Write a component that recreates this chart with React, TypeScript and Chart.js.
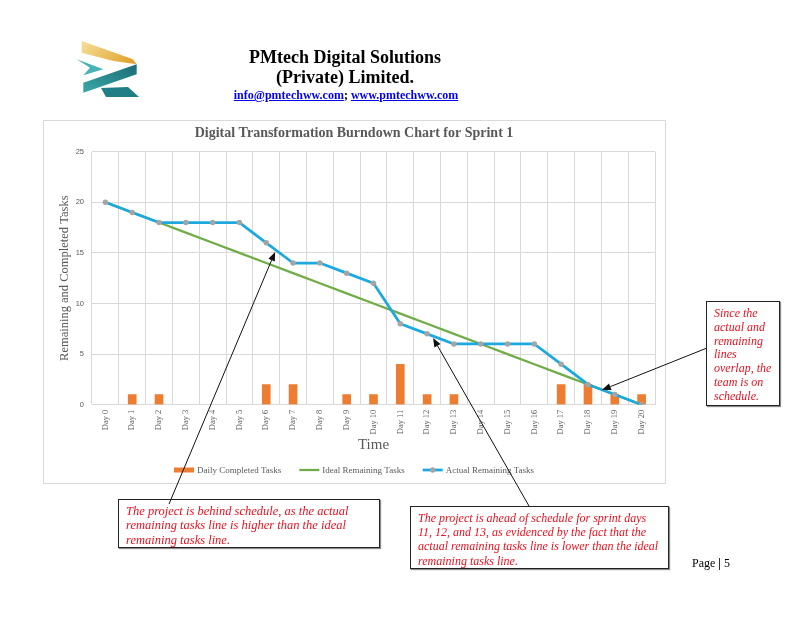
import React, { useEffect, useRef } from "react";
import { Chart, registerables } from "chart.js";

Chart.register(...registerables);

// ---------- data ----------
const days = [
  "Day 0", "Day 1", "Day 2", "Day 3", "Day 4", "Day 5", "Day 6", "Day 7", "Day 8", "Day 9", "Day 10",
  "Day 11", "Day 12", "Day 13", "Day 14", "Day 15", "Day 16", "Day 17", "Day 18", "Day 19", "Day 20",
];
const dailyCompleted = [0, 1, 1, 0, 0, 0, 2, 2, 0, 1, 1, 4, 1, 1, 0, 0, 0, 2, 2, 1, 1];
const idealRemaining = [20, 19, 18, 17, 16, 15, 14, 13, 12, 11, 10, 9, 8, 7, 6, 5, 4, 3, 2, 1, 0];
const actualRemaining = [20, 19, 18, 18, 18, 18, 16, 14, 14, 13, 12, 8, 7, 6, 6, 6, 6, 4, 2, 1, 0];
const yTickValues = [0, 5, 10, 15, 20, 25];

const chartTitle = "Digital Transformation Burndown Chart for Sprint 1";
const yAxisTitle = "Remaining and Completed Tasks";
const xAxisTitle = "Time";
const seriesNames = ["Daily Completed Tasks", "Ideal Remaining Tasks", "Actual Remaining Tasks"];

const note1 = ["The project is behind schedule, as the actual", "remaining tasks line is higher than the ideal", "remaining tasks line."];
const note2 = [
  "The project is ahead of schedule for sprint days",
  "11, 12, and 13, as evidenced by the fact that the",
  "actual remaining tasks line is lower than the ideal",
  "remaining tasks line.",
];
const note3 = ["Since the", "actual and", "remaining", "lines", "overlap, the", "team is on", "schedule."];

// arrow targets in data space (category index, value)
const arrowTargets = [
  { idx: 6.33, val: 15.1 },
  { idx: 12.22, val: 6.6 },
  { idx: 18.52, val: 1.45 },
];

// ---------- layout (page pixels) ----------
const SERIF = "'Liberation Serif', 'Times New Roman', serif";
const SANS = "'Liberation Sans', Arial, sans-serif";
const BOX = { x: 43, y: 120, w: 622, h: 363 };
const arrowStarts = [
  [169, 504],
  [529, 506],
  [707, 348],
];
const COLORS = {
  bar: "#ED7D31",
  ideal: "#70AD47",
  actual: "#1DA9DD",
  point: "#A5A5A5",
  grid: "#d9d9d9",
  text: "#595959",
  note: "#e8101e",
};

function drawArrow(ctx: CanvasRenderingContext2D, x1: number, y1: number, x2: number, y2: number) {
  const ang = Math.atan2(y2 - y1, x2 - x1);
  const len = 9;
  const hw = 3.5;
  const bx = x2 - len * Math.cos(ang);
  const by = y2 - len * Math.sin(ang);
  ctx.beginPath();
  ctx.moveTo(x1, y1);
  ctx.lineTo(bx, by);
  ctx.strokeStyle = "#111";
  ctx.lineWidth = 1;
  ctx.stroke();
  ctx.beginPath();
  ctx.moveTo(x2, y2);
  ctx.lineTo(bx + hw * Math.sin(ang), by - hw * Math.cos(ang));
  ctx.lineTo(bx - hw * Math.sin(ang), by + hw * Math.cos(ang));
  ctx.closePath();
  ctx.fillStyle = "#111";
  ctx.fill();
}

const decorPlugin = {
  id: "decor",
  beforeDraw(chart: any) {
    const ctx = chart.ctx as CanvasRenderingContext2D;
    ctx.save();
    ctx.fillStyle = "#fff";
    ctx.fillRect(0, 0, chart.width, chart.height);
    ctx.strokeStyle = COLORS.grid;
    ctx.lineWidth = 1;
    ctx.strokeRect(BOX.x + 0.5, BOX.y + 0.5, BOX.w, BOX.h);
    ctx.restore();
  },
  afterDraw(chart: any) {
    const ctx = chart.ctx as CanvasRenderingContext2D;
    const cx = BOX.x + BOX.w / 2;
    ctx.save();
    // title
    ctx.font = `bold 14px ${SERIF}`;
    ctx.fillStyle = COLORS.text;
    ctx.textAlign = "center";
    ctx.textBaseline = "middle";
    ctx.fillText(chartTitle, cx, 133);

    // legend
    ctx.font = `9px ${SERIF}`;
    const sw = 20;
    const gap = 3;
    const itemGap = 18;
    const ds = chart.data.datasets;
    const widths = ds.map((d: any) => sw + gap + ctx.measureText(d.label).width);
    const total = widths.reduce((a: number, b: number) => a + b, 0) + itemGap * (ds.length - 1);
    let x = cx - total / 2;
    const ly = 470;
    ds.forEach((d: any, i: number) => {
      if (d.type === "bar") {
        ctx.fillStyle = d.backgroundColor;
        ctx.fillRect(x, ly - 2.5, sw, 5);
      } else {
        ctx.strokeStyle = d.borderColor;
        ctx.lineWidth = d.borderWidth;
        ctx.beginPath();
        ctx.moveTo(x, ly);
        ctx.lineTo(x + sw, ly);
        ctx.stroke();
        if (d.pointRadius > 0) {
          ctx.fillStyle = d.pointBackgroundColor;
          ctx.beginPath();
          ctx.arc(x + sw / 2, ly, d.pointRadius, 0, Math.PI * 2);
          ctx.fill();
        }
      }
      ctx.fillStyle = COLORS.text;
      ctx.textAlign = "left";
      ctx.textBaseline = "middle";
      ctx.fillText(d.label, x + sw + gap, ly + 0.5);
      x += widths[i] + itemGap;
    });

    // arrows
    const xs = chart.scales.x;
    const ys = chart.scales.y;
    arrowTargets.forEach((t, i) => {
      const p0 = xs.getPixelForValue(Math.floor(t.idx));
      const p1 = xs.getPixelForValue(Math.floor(t.idx) + 1);
      const tx = p0 + (p1 - p0) * (t.idx - Math.floor(t.idx));
      const ty = ys.getPixelForValue(t.val);
      drawArrow(ctx, arrowStarts[i][0], arrowStarts[i][1], tx, ty);
    });
    ctx.restore();
  },
};

function Logo() {
  return (
    <svg width="72" height="64" viewBox="0 0 72 64" style={{ position: "absolute", left: 72, top: 38 }}>
      <defs>
        <linearGradient id="gold" x1="0" y1="0" x2="1" y2="0.3">
          <stop offset="0" stopColor="#F6DE98" />
          <stop offset="1" stopColor="#E1A732" />
        </linearGradient>
        <linearGradient id="teal" x1="0" y1="1" x2="1" y2="0">
          <stop offset="0" stopColor="#3AA9A6" />
          <stop offset="1" stopColor="#1B6C77" />
        </linearGradient>
      </defs>
      {/* gold band */}
      <polygon points="9.7,3 61,21.3 64.7,26.3 41.3,23 9.7,14.7" fill="url(#gold)" />
      {/* small arrow */}
      <polygon points="4.7,21.3 31.3,31.3 11.3,37.3 18,29.7" fill="#48B3B6" />
      {/* big teal band */}
      <polygon points="11.3,44.7 64.7,26.3 64.7,36.3 11.3,54.7" fill="url(#teal)" />
      {/* bottom band */}
      <polygon points="29,50 56,49 67,59 34,59" fill="#1F7E86" />
    </svg>
  );
}

export default function App() {
  const canvasRef = useRef<HTMLCanvasElement | null>(null);

  useEffect(() => {
    if (!canvasRef.current) return;
    const chart = new Chart(canvasRef.current, {
      type: "bar",
      data: {
        labels: days,
        datasets: [
          {
            type: "bar",
            label: seriesNames[0],
            data: dailyCompleted.map((v) => (v === 0 ? null : v)),
            backgroundColor: COLORS.bar,
            borderWidth: 0,
            barThickness: 8,
            order: 3,
          } as any,
          {
            type: "line",
            label: seriesNames[1],
            data: idealRemaining,
            borderColor: COLORS.ideal,
            backgroundColor: COLORS.ideal,
            borderWidth: 2.25,
            pointRadius: 0,
            tension: 0,
            order: 2,
          } as any,
          {
            type: "line",
            label: seriesNames[2],
            data: actualRemaining,
            borderColor: COLORS.actual,
            backgroundColor: COLORS.actual,
            borderWidth: 2.75,
            borderJoinStyle: "round",
            pointRadius: 2.75,
            pointBackgroundColor: COLORS.point,
            pointBorderWidth: 0,
            tension: 0,
            order: 1,
          } as any,
        ],
      },
      options: {
        responsive: false,
        animation: false,
        devicePixelRatio: 1,
        events: [],
        layout: { padding: { left: 43, top: 151.7, right: 151, bottom: 166 } },
        plugins: {
          legend: { display: false },
          title: { display: false },
          tooltip: { enabled: false },
        },
        scales: {
          x: {
            type: "category",
            offset: true,
            grid: { offset: true, color: COLORS.grid, drawTicks: false },
            border: { color: COLORS.grid },
            ticks: {
              autoSkip: false,
              minRotation: 90,
              maxRotation: 90,
              padding: 5,
              color: COLORS.text,
              font: { family: SERIF, size: 8.5 },
            },
            title: {
              display: true,
              text: xAxisTitle,
              color: COLORS.text,
              font: { family: SERIF, size: 15 },
              padding: { top: 0, bottom: 6 },
            },
            afterFit: (s: any) => {
              s.height = 55.3;
            },
          },
          y: {
            min: 0,
            max: 25,
            afterBuildTicks: (s: any) => {
              s.ticks = yTickValues.map((v) => ({ value: v }));
            },
            grid: { color: COLORS.grid, drawTicks: false },
            border: { display: false },
            ticks: {
              padding: 8,
              color: COLORS.text,
              font: { family: SANS, size: 7.5 },
            },
            title: {
              display: true,
              text: yAxisTitle,
              color: COLORS.text,
              font: { family: SERIF, size: 12.5 },
              padding: { top: 14.5, bottom: 0 },
            },
            afterFit: (s: any) => {
              s.width = 49;
            },
          },
        },
      },
      plugins: [decorPlugin],
    });
    return () => chart.destroy();
  }, []);

  const noteStyle = (left: number, top: number, w: number, h: number, padTop: number, lh: number, fs: number): React.CSSProperties => ({
    position: "absolute",
    left,
    top,
    width: w,
    height: h,
    boxSizing: "border-box",
    border: "1px solid #222",
    boxShadow: "1px 1px 1px rgba(0,0,0,0.45)",
    paddingLeft: 7,
    paddingTop: padTop,
    fontFamily: SERIF,
    fontStyle: "italic",
    fontSize: fs,
    lineHeight: `${lh}px`,
    color: COLORS.note,
    whiteSpace: "nowrap",
  });

  return (
    <div style={{ position: "absolute", left: 0, top: 0, width: 806, height: 626, background: "#fff", overflow: "hidden" }}>
      <canvas ref={canvasRef} width={806} height={626} style={{ position: "absolute", left: 0, top: 0, width: 806, height: 626 }} />
      <Logo />
      <div style={{ position: "absolute", left: 0, width: 690, top: 47, textAlign: "center", fontFamily: SERIF, fontWeight: "bold", fontSize: 18, lineHeight: "20px", color: "#000" }}>
        PMtech Digital Solutions
      </div>
      <div style={{ position: "absolute", left: 0, width: 690, top: 67, textAlign: "center", fontFamily: SERIF, fontWeight: "bold", fontSize: 18, lineHeight: "20px", color: "#000" }}>
        (Private) Limited.
      </div>
      <div style={{ position: "absolute", left: 0, width: 692, top: 88, textAlign: "center", fontFamily: SERIF, fontWeight: "bold", fontSize: 12, lineHeight: "14px", color: "#000" }}>
        <span style={{ color: "#0000EE", textDecoration: "underline" }}>info@pmtechww.com</span>;{" "}
        <span style={{ color: "#0000EE", textDecoration: "underline" }}>www.pmtechww.com</span>
      </div>

      <div style={noteStyle(118, 499, 262, 49, 3.5, 14.5, 12.5)}>
        {note1.map((l, i) => (
          <div key={i}>{l}</div>
        ))}
      </div>
      <div style={noteStyle(410, 506, 259, 63, 3.8, 14.3, 12)}>
        {note2.map((l, i) => (
          <div key={i}>{l}</div>
        ))}
      </div>
      <div style={noteStyle(706, 301, 74, 105, 5, 13.83, 12)}>
        {note3.map((l, i) => (
          <div key={i}>{l}</div>
        ))}
      </div>

      <div style={{ position: "absolute", left: 692, top: 556, fontFamily: SERIF, fontSize: 12, lineHeight: "14px", color: "#000" }}>
        Page <b>|</b> 5
      </div>
    </div>
  );
}
